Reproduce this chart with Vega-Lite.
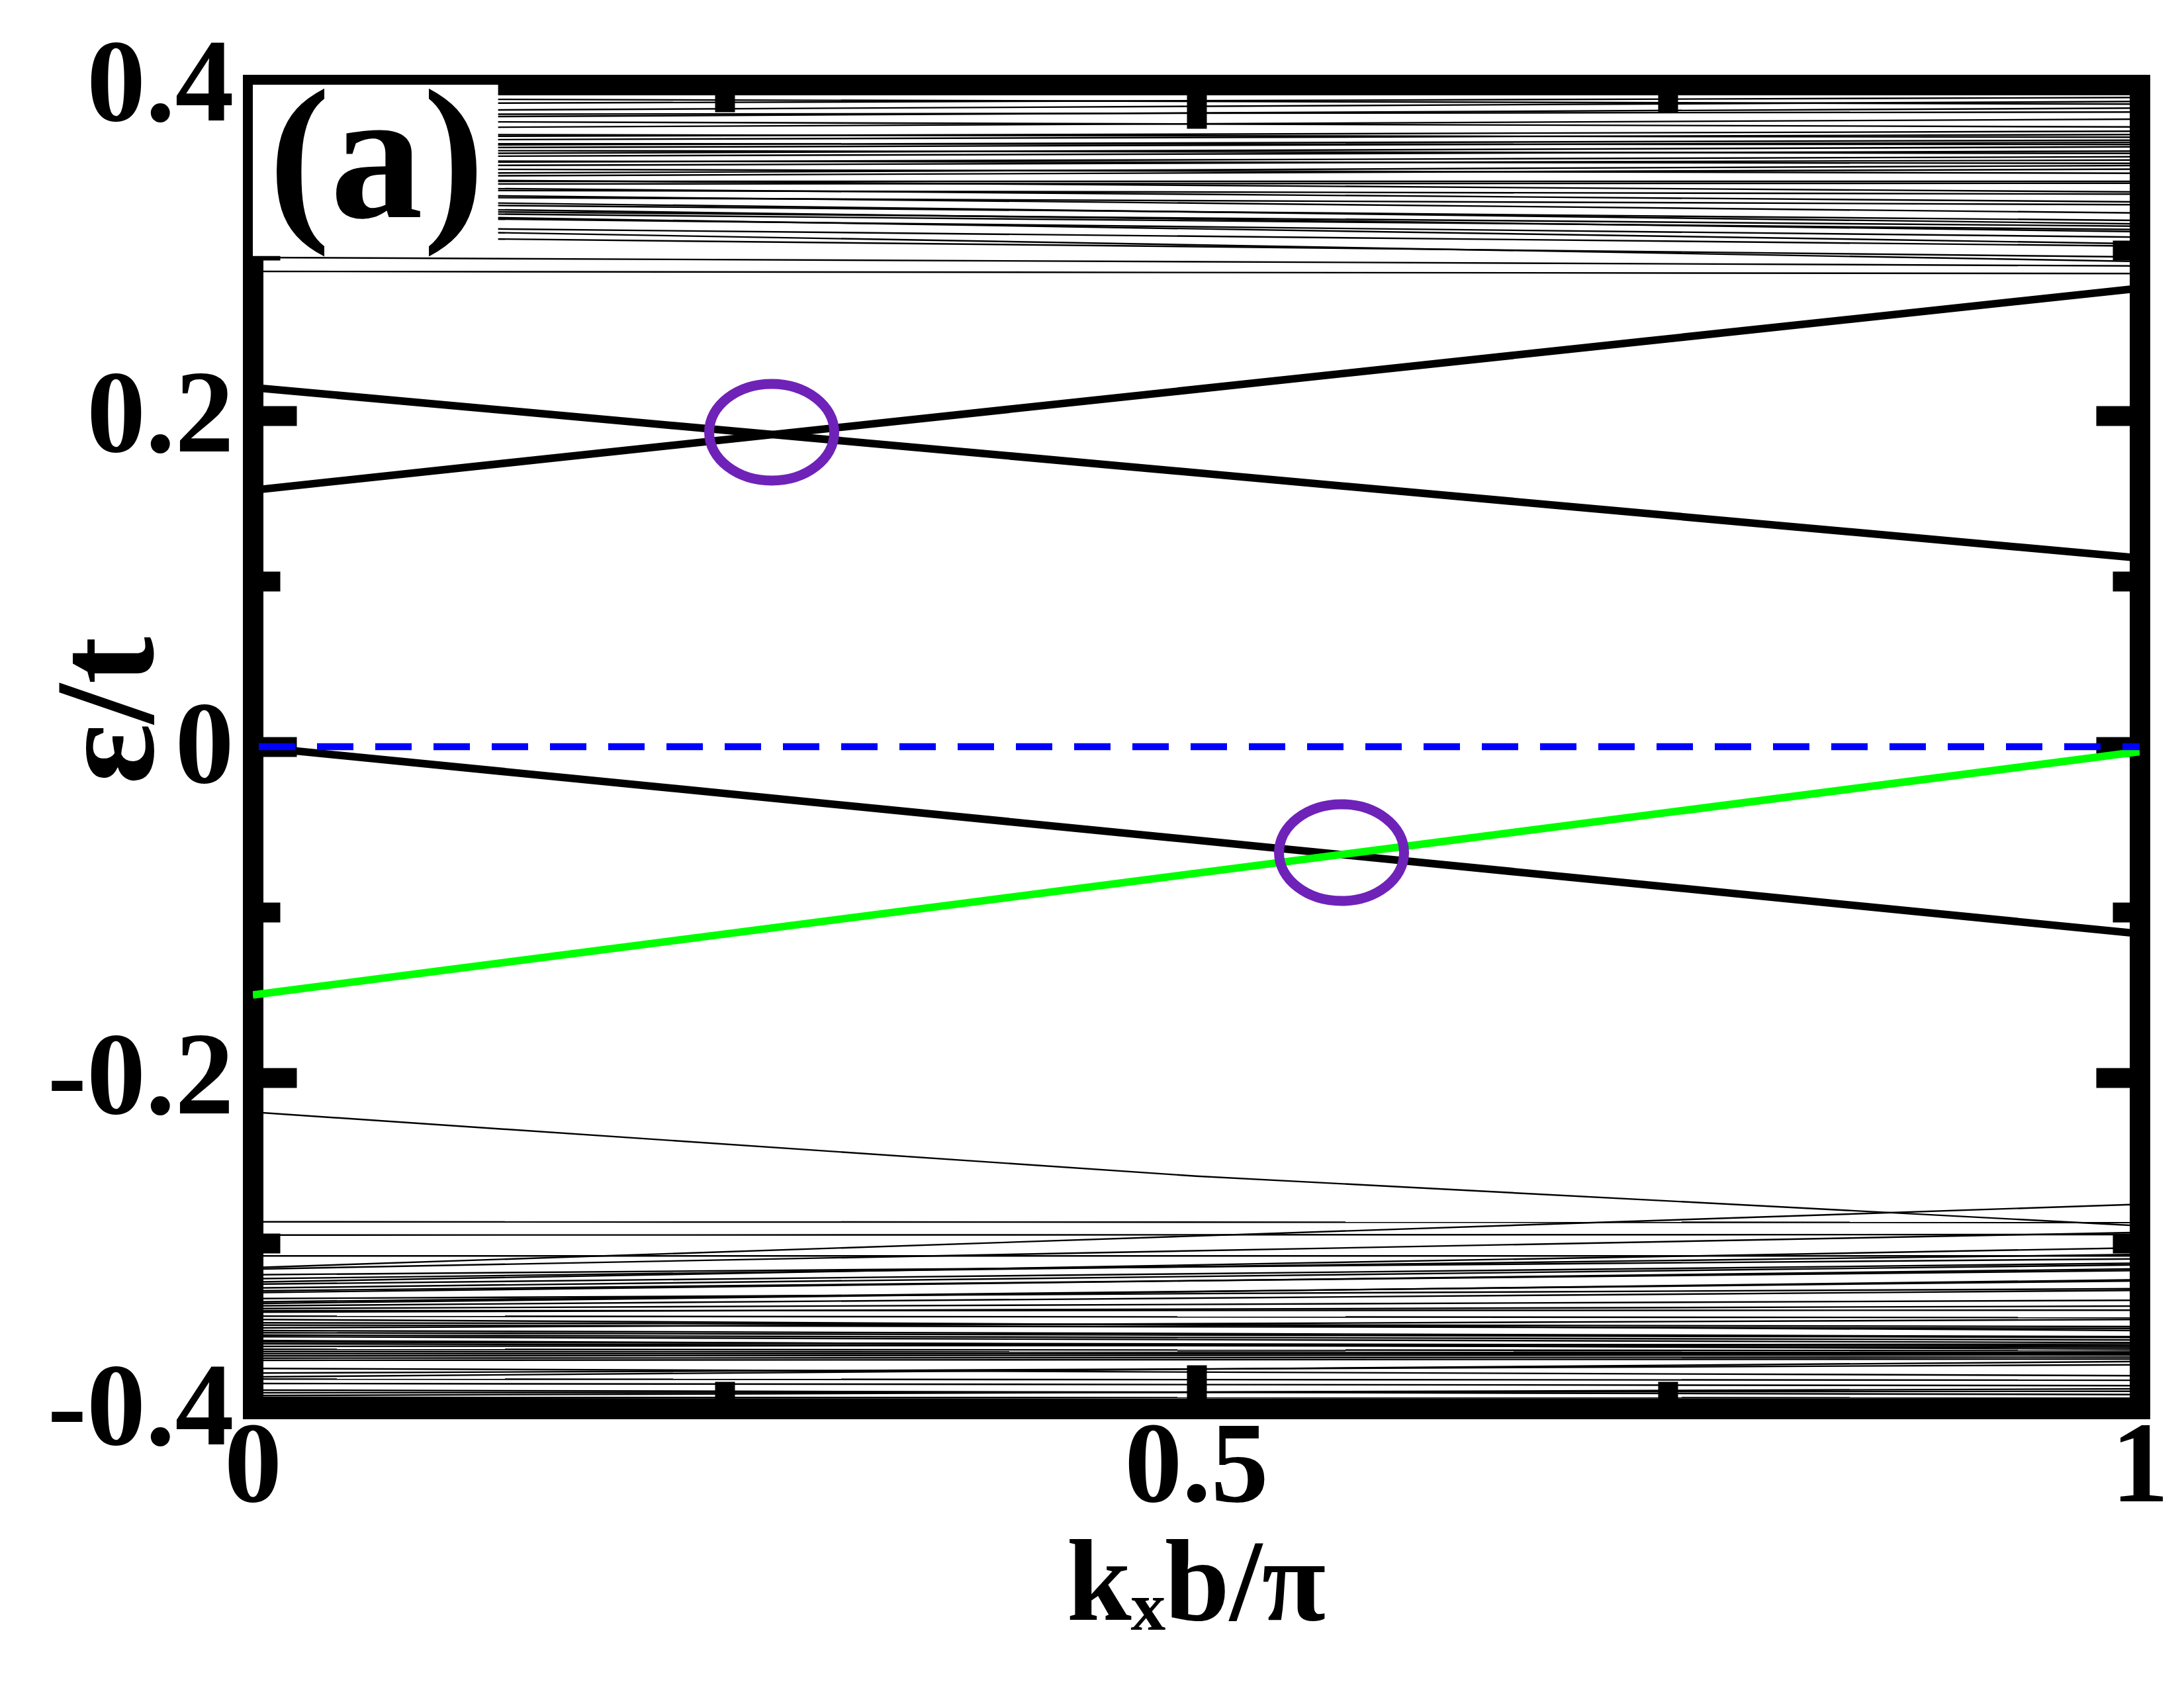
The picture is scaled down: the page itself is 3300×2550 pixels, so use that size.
{
  "$schema": "https://vega.github.io/schema/vega-lite/v6.json",
  "width": 2851,
  "height": 2000,
  "autosize": {"type": "none"},
  "padding": {"left": 382, "top": 128, "right": 67, "bottom": 422},
  "background": "white",
  "config": {
    "view": {"stroke": null},
    "axis": {
      "zindex": 1,
      "grid": false,
      "tickColor": "black",
      "tickWidth": 30,
      "domainColor": "black",
      "domainWidth": 31,
      "domainCap": "square",
      "labelFont": "Liberation Serif",
      "labelFontWeight": "bold",
      "labelFontSize": 178,
      "labelColor": "black",
      "labelLimit": 0,
      "titleFont": "Liberation Serif",
      "titleFontWeight": "bold",
      "titleColor": "black",
      "titleLimit": 0
    }
  },
  "datasets": {
    "bands": [
      {"id": "t1", "k": 0, "e": 0.3916}, {"id": "t1", "k": 1, "e": 0.3883},
      {"id": "t2", "k": 0, "e": 0.3884}, {"id": "t2", "k": 1, "e": 0.3923},
      {"id": "t3", "k": 0, "e": 0.3840}, {"id": "t3", "k": 1, "e": 0.3899},
      {"id": "t4", "k": 0, "e": 0.3820}, {"id": "t4", "k": 1, "e": 0.3835},
      {"id": "t5", "k": 0, "e": 0.3800}, {"id": "t5", "k": 1, "e": 0.3859},
      {"id": "t6", "k": 0, "e": 0.3780}, {"id": "t6", "k": 1, "e": 0.3745},
      {"id": "t7", "k": 0, "e": 0.3736}, {"id": "t7", "k": 1, "e": 0.3792},
      {"id": "t8", "k": 0, "e": 0.3700}, {"id": "t8", "k": 1, "e": 0.3683},
      {"id": "t9", "k": 0, "e": 0.3684}, {"id": "t9", "k": 1, "e": 0.3719},
      {"id": "t10", "k": 0, "e": 0.3664}, {"id": "t10", "k": 1, "e": 0.3699},
      {"id": "t11", "k": 0, "e": 0.3644}, {"id": "t11", "k": 1, "e": 0.3639},
      {"id": "t12", "k": 0, "e": 0.3632}, {"id": "t12", "k": 1, "e": 0.3665},
      {"id": "t13", "k": 0, "e": 0.3616}, {"id": "t13", "k": 1, "e": 0.3652},
      {"id": "t14", "k": 0, "e": 0.3604}, {"id": "t14", "k": 1, "e": 0.3585},
      {"id": "t15", "k": 0, "e": 0.3580}, {"id": "t15", "k": 1, "e": 0.3625},
      {"id": "t16", "k": 0, "e": 0.3564}, {"id": "t16", "k": 1, "e": 0.3599},
      {"id": "t17", "k": 0, "e": 0.3540}, {"id": "t17", "k": 1, "e": 0.3525},
      {"id": "t18", "k": 0, "e": 0.3528}, {"id": "t18", "k": 1, "e": 0.3565},
      {"id": "t19", "k": 0, "e": 0.3508}, {"id": "t19", "k": 1, "e": 0.3545},
      {"id": "t20", "k": 0, "e": 0.3492}, {"id": "t20", "k": 1, "e": 0.3465},
      {"id": "t21", "k": 0, "e": 0.3460}, {"id": "t21", "k": 1, "e": 0.3512},
      {"id": "t22", "k": 0, "e": 0.3444}, {"id": "t22", "k": 1, "e": 0.3490},
      {"id": "t23", "k": 0, "e": 0.3432}, {"id": "t23", "k": 1, "e": 0.3352},
      {"id": "t24", "k": 0, "e": 0.3416}, {"id": "t24", "k": 1, "e": 0.3416},
      {"id": "t25", "k": 0, "e": 0.3400}, {"id": "t25", "k": 1, "e": 0.3405},
      {"id": "t26", "k": 0, "e": 0.3384}, {"id": "t26", "k": 1, "e": 0.3292},
      {"id": "t27", "k": 0, "e": 0.3364}, {"id": "t27", "k": 1, "e": 0.3339},
      {"id": "t28", "k": 0, "e": 0.3344}, {"id": "t28", "k": 1, "e": 0.3225},
      {"id": "t29", "k": 0, "e": 0.3324}, {"id": "t29", "k": 1, "e": 0.3275},
      {"id": "t30", "k": 0, "e": 0.3304}, {"id": "t30", "k": 1, "e": 0.3159},
      {"id": "t31", "k": 0, "e": 0.3284}, {"id": "t31", "k": 1, "e": 0.3180},
      {"id": "t32", "k": 0, "e": 0.3264}, {"id": "t32", "k": 1, "e": 0.3112},
      {"id": "t33", "k": 0, "e": 0.3244}, {"id": "t33", "k": 1, "e": 0.3145},
      {"id": "t34", "k": 0, "e": 0.3232}, {"id": "t34", "k": 1, "e": 0.3125},
      {"id": "t35", "k": 0, "e": 0.3220}, {"id": "t35", "k": 1, "e": 0.3039},
      {"id": "t36", "k": 0, "e": 0.3204}, {"id": "t36", "k": 1, "e": 0.3079},
      {"id": "t37", "k": 0, "e": 0.3144}, {"id": "t37", "k": 1, "e": 0.3025},
      {"id": "t38", "k": 0, "e": 0.3132}, {"id": "t38", "k": 1, "e": 0.2932},
      {"id": "t39", "k": 0, "e": 0.3084}, {"id": "t39", "k": 1, "e": 0.2959},
      {"id": "t40", "k": 0, "e": 0.2956}, {"id": "t40", "k": 1, "e": 0.2905},
      {"id": "t41", "k": 0, "e": 0.2872}, {"id": "t41", "k": 1, "e": 0.2859},
      {"id": "b1", "k": 0, "e": -0.2871}, {"id": "b1", "k": 1, "e": -0.2875},
      {"id": "b2", "k": 0, "e": -0.2951}, {"id": "b2", "k": 1, "e": -0.2948},
      {"id": "b3", "k": 0, "e": -0.3077}, {"id": "b3", "k": 1, "e": -0.3077},
      {"id": "b4", "k": 0, "e": -0.3157}, {"id": "b4", "k": 1, "e": -0.2935},
      {"id": "b5", "k": 0, "e": -0.3191}, {"id": "b5", "k": 1, "e": -0.3095},
      {"id": "b6", "k": 0, "e": -0.3215}, {"id": "b6", "k": 1, "e": -0.3068},
      {"id": "b7", "k": 0, "e": -0.3235}, {"id": "b7", "k": 1, "e": -0.3028},
      {"id": "b8", "k": 0, "e": -0.3248}, {"id": "b8", "k": 1, "e": -0.3121},
      {"id": "b9", "k": 0, "e": -0.3271}, {"id": "b9", "k": 1, "e": -0.3131},
      {"id": "b10", "k": 0, "e": -0.3288}, {"id": "b10", "k": 1, "e": -0.3165},
      {"id": "b11", "k": 0, "e": -0.3299}, {"id": "b11", "k": 1, "e": -0.3155},
      {"id": "b12", "k": 0, "e": -0.3335}, {"id": "b12", "k": 1, "e": -0.3275},
      {"id": "b13", "k": 0, "e": -0.3355}, {"id": "b13", "k": 1, "e": -0.3228},
      {"id": "b14", "k": 0, "e": -0.3365}, {"id": "b14", "k": 1, "e": -0.3221},
      {"id": "b15", "k": 0, "e": -0.3379}, {"id": "b15", "k": 1, "e": -0.3285},
      {"id": "b16", "k": 0, "e": -0.3395}, {"id": "b16", "k": 1, "e": -0.3345},
      {"id": "b17", "k": 0, "e": -0.3408}, {"id": "b17", "k": 1, "e": -0.3405},
      {"id": "b18", "k": 0, "e": -0.3417}, {"id": "b18", "k": 1, "e": -0.3380},
      {"id": "b19", "k": 0, "e": -0.3441}, {"id": "b19", "k": 1, "e": -0.3450},
      {"id": "b20", "k": 0, "e": -0.3461}, {"id": "b20", "k": 1, "e": -0.3528},
      {"id": "b21", "k": 0, "e": -0.3481}, {"id": "b21", "k": 1, "e": -0.3504},
      {"id": "b22", "k": 0, "e": -0.3495}, {"id": "b22", "k": 1, "e": -0.3515},
      {"id": "b23", "k": 0, "e": -0.3512}, {"id": "b23", "k": 1, "e": -0.3461},
      {"id": "b24", "k": 0, "e": -0.3528}, {"id": "b24", "k": 1, "e": -0.3565},
      {"id": "b25", "k": 0, "e": -0.3541}, {"id": "b25", "k": 1, "e": -0.3570},
      {"id": "b26", "k": 0, "e": -0.3555}, {"id": "b26", "k": 1, "e": -0.3585},
      {"id": "b27", "k": 0, "e": -0.3565}, {"id": "b27", "k": 1, "e": -0.3601},
      {"id": "b28", "k": 0, "e": -0.3588}, {"id": "b28", "k": 1, "e": -0.3641},
      {"id": "b29", "k": 0, "e": -0.3597}, {"id": "b29", "k": 1, "e": -0.3621},
      {"id": "b30", "k": 0, "e": -0.3608}, {"id": "b30", "k": 1, "e": -0.3630},
      {"id": "b31", "k": 0, "e": -0.3624}, {"id": "b31", "k": 1, "e": -0.3610},
      {"id": "b32", "k": 0, "e": -0.3641}, {"id": "b32", "k": 1, "e": -0.3650},
      {"id": "b33", "k": 0, "e": -0.3655}, {"id": "b33", "k": 1, "e": -0.3661},
      {"id": "b34", "k": 0, "e": -0.3668}, {"id": "b34", "k": 1, "e": -0.3668},
      {"id": "b35", "k": 0, "e": -0.3681}, {"id": "b35", "k": 1, "e": -0.3675},
      {"id": "b36", "k": 0, "e": -0.3695}, {"id": "b36", "k": 1, "e": -0.3688},
      {"id": "b37", "k": 0, "e": -0.3708}, {"id": "b37", "k": 1, "e": -0.3700},
      {"id": "b38", "k": 0, "e": -0.3757}, {"id": "b38", "k": 1, "e": -0.3801},
      {"id": "b39", "k": 0, "e": -0.3785}, {"id": "b39", "k": 1, "e": -0.3735},
      {"id": "b40", "k": 0, "e": -0.3808}, {"id": "b40", "k": 1, "e": -0.3715},
      {"id": "b41", "k": 0, "e": -0.3821}, {"id": "b41", "k": 1, "e": -0.3828},
      {"id": "b42", "k": 0, "e": -0.3848}, {"id": "b42", "k": 1, "e": -0.3861},
      {"id": "b43", "k": 0, "e": -0.3888}, {"id": "b43", "k": 1, "e": -0.3915},
      {"id": "b44", "k": 0, "e": -0.3904}, {"id": "b44", "k": 1, "e": -0.3895},
      {"id": "b45", "k": 0, "e": -0.3921}, {"id": "b45", "k": 1, "e": -0.3880},
      {"id": "b46", "k": 0, "e": -0.3932}, {"id": "b46", "k": 1, "e": -0.3935},
      {"id": "b47", "k": 0, "e": -0.3939}, {"id": "b47", "k": 1, "e": -0.3950},
      {"id": "r1", "k": 0, "e": -0.3148}, {"id": "r1", "k": 1, "e": -0.2765},
      {"id": "d1", "k": 0, "e": -0.2208}, {"id": "d1", "k": 0.5, "e": -0.2595}, {"id": "d1", "k": 1, "e": -0.2895}
    ],
    "thick": [
      {"id": "A", "k": 0, "e": 0.217}, {"id": "A", "k": 1, "e": 0.114},
      {"id": "B", "k": 0, "e": 0.155}, {"id": "B", "k": 1, "e": 0.277},
      {"id": "C", "k": 0, "e": 0.0}, {"id": "C", "k": 1, "e": -0.113}
    ],
    "green": [
      {"k": 0, "e": -0.15}, {"k": 1, "e": -0.003}
    ],
    "fermi": [
      {"k": 0, "e": 0}, {"k": 1, "e": 0}
    ],
    "crossings": [
      {"k": 0.275, "e": 0.19},
      {"k": 0.577, "e": -0.064}
    ],
    "panel": [
      {"label": "(a)"}
    ]
  },
  "layer": [
    {
      "data": {"name": "bands"},
      "mark": {"type": "line", "clip": true, "color": "black", "strokeWidth": 2.4},
      "encoding": {
        "x": {
          "field": "k", "type": "quantitative",
          "scale": {"domain": [0, 1], "nice": false, "zero": false},
          "axis": {
            "orient": "bottom", "values": [0, 0.5, 1], "format": "~g",
            "tickSize": -66, "labelPadding": 68, "labelFontSize": 174, "labelFlush": false,
            "labelOverlap": false, "labelBound": false, "domain": true,
            "title": "kₓb/π", "titleFontSize": 176, "titleBaseline": "alphabetic",
            "titleAlign": "center", "titleX": 1425, "titleY": 318
          }
        },
        "y": {
          "field": "e", "type": "quantitative",
          "scale": {"domain": [-0.4, 0.4], "nice": false, "zero": false},
          "axis": {
            "orient": "left", "values": [-0.4, -0.2, 0, 0.2, 0.4],
            "labelExpr": "datum.value == 0 ? '0' : (datum.value < 0 ? '-' : '') + format(abs(datum.value), '.1f')",
            "tickSize": -66, "labelPadding": 95, "labelOverlap": false,
            "labelBound": false, "labelFlush": false, "domain": true,
            "title": "ε/t", "titleFontSize": 215, "titleAngle": 270,
            "titleBaseline": "alphabetic", "titleAlign": "center",
            "titleX": -152, "titleY": 945
          }
        },
        "detail": {"field": "id"}
      }
    },
    {
      "data": {"name": "thick"},
      "mark": {"type": "line", "clip": true, "color": "black", "strokeWidth": 11.5},
      "encoding": {
        "x": {
          "field": "k", "type": "quantitative",
          "scale": {"domain": [0, 1], "nice": false, "zero": false},
          "axis": {"orient": "bottom", "values": [0.25, 0.75], "tickSize": -41, "labels": false, "domain": false, "title": null}
        },
        "y": {
          "field": "e", "type": "quantitative",
          "scale": {"domain": [-0.4, 0.4], "nice": false, "zero": false},
          "axis": {"orient": "left", "values": [-0.3, -0.1, 0.1, 0.3], "tickSize": -41, "labels": false, "domain": false, "title": null}
        },
        "detail": {"field": "id"}
      }
    },
    {
      "data": {"name": "green"},
      "mark": {"type": "line", "clip": true, "color": "#00ff00", "strokeWidth": 11.5},
      "encoding": {
        "x": {
          "field": "k", "type": "quantitative",
          "scale": {"domain": [0, 1], "nice": false, "zero": false},
          "axis": {"orient": "top", "values": [0, 0.5, 1], "tickSize": -66, "labels": false, "domain": true, "title": null}
        },
        "y": {
          "field": "e", "type": "quantitative",
          "scale": {"domain": [-0.4, 0.4], "nice": false, "zero": false},
          "axis": {"orient": "right", "values": [-0.4, -0.2, 0, 0.2, 0.4], "tickSize": -66, "labels": false, "domain": true, "title": null}
        }
      }
    },
    {
      "data": {"name": "fermi"},
      "mark": {"type": "line", "clip": true, "color": "#0000ff", "strokeWidth": 10.5, "strokeDash": [55, 33], "strokeDashOffset": -9},
      "encoding": {
        "x": {
          "field": "k", "type": "quantitative",
          "scale": {"domain": [0, 1], "nice": false, "zero": false},
          "axis": {"orient": "top", "values": [0.25, 0.75], "tickSize": -41, "labels": false, "domain": false, "title": null}
        },
        "y": {
          "field": "e", "type": "quantitative",
          "scale": {"domain": [-0.4, 0.4], "nice": false, "zero": false},
          "axis": {"orient": "right", "values": [-0.3, -0.1, 0.1, 0.3], "tickSize": -41, "labels": false, "domain": false, "title": null}
        }
      }
    },
    {
      "data": {"name": "crossings"},
      "mark": {
        "type": "point",
        "shape": "M1,0C1,0.427,0.552,0.773,0,0.773C-0.552,0.773,-1,0.427,-1,0C-1,-0.427,-0.552,-0.773,0,-0.773C0.552,-0.773,1,-0.427,1,0Z",
        "size": 35721, "filled": false, "stroke": "#6f22b8", "strokeWidth": 15, "opacity": 1
      },
      "encoding": {
        "x": {"field": "k", "type": "quantitative", "scale": {"domain": [0, 1], "nice": false, "zero": false}, "axis": null},
        "y": {"field": "e", "type": "quantitative", "scale": {"domain": [-0.4, 0.4], "nice": false, "zero": false}, "axis": null}
      }
    },
    {
      "data": {"name": "panel"},
      "mark": {"type": "rect", "fill": "white", "strokeWidth": 0},
      "encoding": {
        "x": {"datum": 0, "type": "quantitative", "scale": {"domain": [0, 1], "nice": false, "zero": false}, "axis": null},
        "x2": {"datum": 0.13},
        "y": {"datum": 0.2965, "type": "quantitative", "scale": {"domain": [-0.4, 0.4], "nice": false, "zero": false}, "axis": null},
        "y2": {"datum": 0.4}
      }
    },
    {
      "data": {"name": "panel"},
      "mark": {"type": "text", "font": "Liberation Serif", "fontWeight": "bold", "fontSize": 280, "align": "center", "baseline": "alphabetic", "color": "black"},
      "encoding": {
        "text": {"field": "label"},
        "x": {"datum": 0.0656, "type": "quantitative", "scale": {"domain": [0, 1], "nice": false, "zero": false}, "axis": null},
        "y": {"datum": 0.32, "type": "quantitative", "scale": {"domain": [-0.4, 0.4], "nice": false, "zero": false}, "axis": null}
      }
    }
  ],
  "resolve": {"axis": {"x": "independent", "y": "independent"}}
}
